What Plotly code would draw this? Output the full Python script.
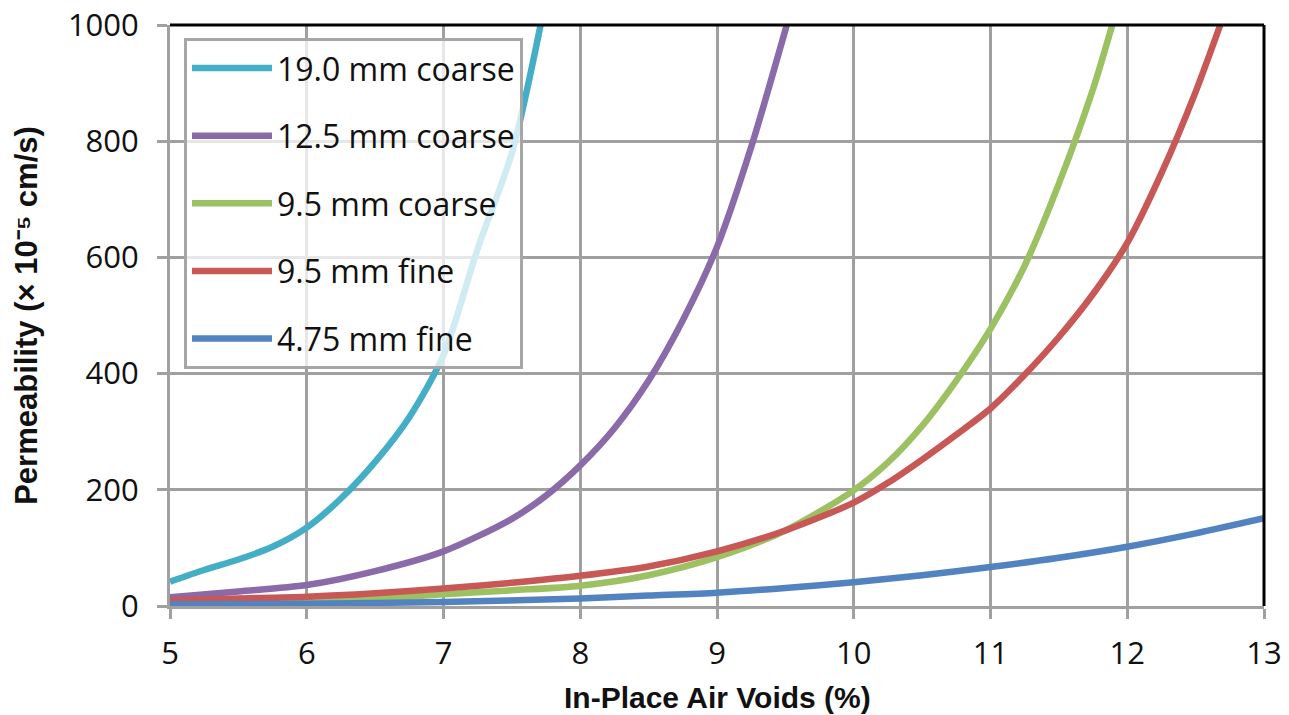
import plotly.graph_objects as go

# Data
names = ["19.0 mm coarse", "12.5 mm coarse", "9.5 mm coarse", "9.5 mm fine", "4.75 mm fine"]
colors = ["#45AEC7", "#8A6AA8", "#9BC163", "#C85856", "#5283C0"]

x_19c = [5, 5.25, 5.5, 5.75, 6, 6.25, 6.5, 6.75, 7, 7.25, 7.5, 7.71]
y_19c = [42, 62, 80, 102, 135, 185, 248, 325, 432, 615, 780, 1000]

x_125c = [5, 5.5, 6, 6.5, 7, 7.5, 7.75, 8, 8.25, 8.5, 8.75, 9, 9.25, 9.51]
y_125c = [15, 25, 36, 60, 94, 150, 190, 242, 306, 388, 492, 618, 790, 1000]

x_95c = [5, 5.5, 6, 6.5, 7, 7.5, 8, 8.5, 9, 9.5, 10, 10.25, 10.5, 10.75, 11, 11.25, 11.5, 11.75, 11.89]
y_95c = [3, 5, 7, 12, 20, 27, 35, 53, 84, 130, 199, 247, 310, 388, 477, 586, 727, 890, 1000]

x_95f = [5, 5.5, 6, 6.5, 7, 7.5, 8, 8.5, 9, 9.5, 10, 10.25, 10.5, 10.75, 11, 11.25, 11.5, 11.75, 12, 12.25, 12.5, 12.68]
y_95f = [10, 13, 16, 22, 30, 40, 52, 68, 94, 130, 178, 212, 252, 295, 340, 398, 463, 537, 625, 745, 885, 1000]

x_475f = [5, 6, 7, 8, 8.5, 9, 9.5, 10, 10.5, 11, 11.5, 12, 12.5, 13]
y_475f = [3, 4, 7, 13, 18, 23, 31, 41, 53, 67, 83, 102, 125, 151]

series_x = [x_19c, x_125c, x_95c, x_95f, x_475f]
series_y = [y_19c, y_125c, y_95c, y_95f, y_475f]

x_ticks = [5, 6, 7, 8, 9, 10, 11, 12, 13]
y_ticks = [0, 200, 400, 600, 800, 1000]

x_title = "In-Place Air Voids (%)"
y_title = "Permeability (× 10⁻⁵ cm/s)"

fig = go.Figure()
for i, (n, c, xs, ys) in enumerate(zip(names, colors, series_x, series_y)):
    fig.add_trace(go.Scatter(
        x=xs, y=ys, name=n, mode="lines",
        line=dict(color=c, width=6.5, shape="spline", smoothing=0.8),
        legendgroup=f"g{i}",
    ))

grid_col = "#A0A0A0"
title_font = "Liberation Sans, Arial, sans-serif"
fig.update_layout(
    width=1273, height=707,
    margin=dict(l=162, r=17, t=17, b=109),
    paper_bgcolor="white", plot_bgcolor="white",
    font=dict(family="Open Sans, Noto Sans, sans-serif", color="#111111"),
    showlegend=True,
    legend=dict(
        x=0.0128, y=0.978, xanchor="left", yanchor="top",
        bgcolor="rgba(255,255,255,0.75)",
        bordercolor="#A6A6A6", borderwidth=3,
        font=dict(size=32, family="Open Sans, Noto Sans, sans-serif", color="#111111"),
        itemwidth=80, tracegroupgap=23, traceorder="grouped",
    ),
    xaxis=dict(
        range=[5, 13], tickvals=x_ticks, ticktext=[str(v) for v in x_ticks],
        showgrid=True, gridcolor=grid_col, gridwidth=2.5,
        showline=True, linecolor=grid_col, linewidth=3,
        ticks="outside", ticklen=10, tickwidth=2.5, tickcolor=grid_col,
        ticklabelstandoff=8, ticklabeloverflow="allow",
        zeroline=False, tickfont=dict(size=31), automargin=False,
    ),
    yaxis=dict(
        range=[0, 1000], tickvals=y_ticks, ticktext=[str(v) for v in y_ticks],
        showgrid=True, gridcolor=grid_col, gridwidth=2.5,
        showline=True, linecolor=grid_col, linewidth=3,
        ticks="outside", ticklen=10, tickwidth=2.5, tickcolor=grid_col,
        ticklabelstandoff=12, ticklabeloverflow="allow",
        zeroline=False, tickfont=dict(size=31), automargin=False,
        title=dict(text=f"<b>{y_title}</b>",
                   font=dict(size=31, family=title_font),
                   standoff=22),
    ),
)

# x-axis title placed as an annotation to control its distance from the axis
fig.add_annotation(
    text=f"<b>{x_title}</b>", xref="paper", yref="paper", x=0.5, y=0,
    xanchor="center", yanchor="middle", yshift=-91, showarrow=False,
    font=dict(size=30, family=title_font, color="#111111"),
)

# black top and right borders of the plot area
fig.add_shape(type="line", xref="x domain", yref="y domain", x0=0, x1=1, y0=1, y1=1,
              line=dict(color="black", width=3), layer="above")
fig.add_shape(type="line", xref="x domain", yref="y domain", x0=1, x1=1, y0=0, y1=1,
              line=dict(color="black", width=3), layer="above")

fig.write_html("out.html")
